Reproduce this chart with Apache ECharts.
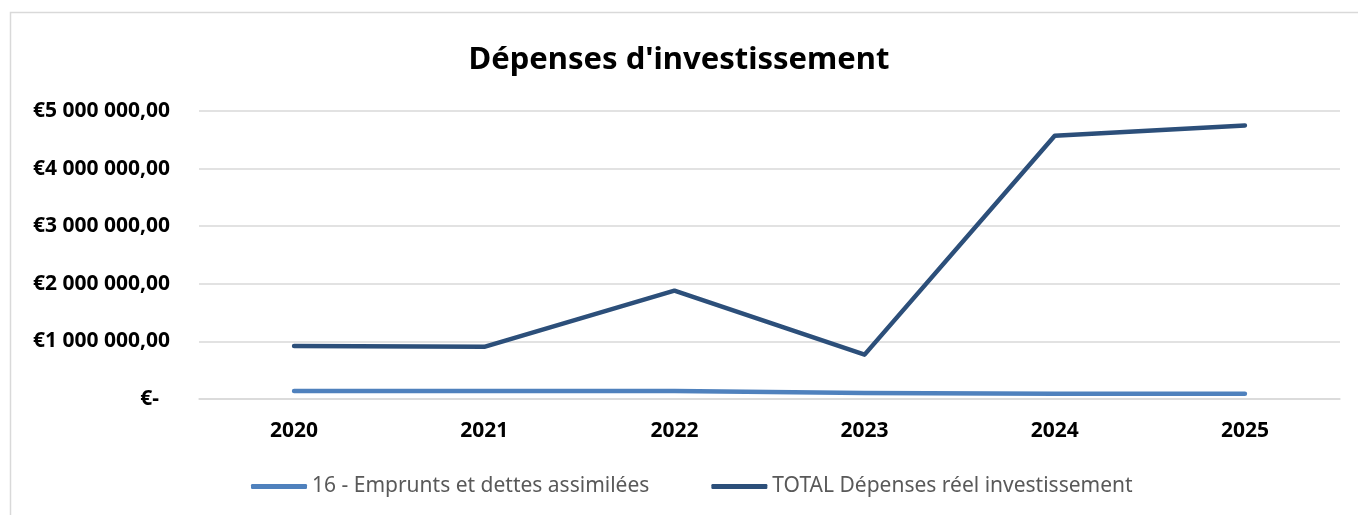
<!DOCTYPE html>
<html>
<head>
<meta charset="utf-8">
<title>Dépenses d'investissement</title>
<script src="https://cdn.jsdelivr.net/npm/echarts@6/dist/echarts.min.js"></script>
<style>
  html, body { margin: 0; padding: 0; background: #fff; }
  #chart { width: 1358px; height: 515px; }
</style>
</head>
<body>
<div id="chart"></div>
<script>
// données
var years = ['2020', '2021', '2022', '2023', '2024', '2025'];
var emprunts = [140000, 140000, 140000, 105000, 92000, 92000];
var totalDepenses = [920000, 905000, 1880000, 770000, 4570000, 4750000];
var seriesNames = ['16 - Emprunts et dettes assimilées', 'TOTAL Dépenses réel investissement'];

var myChart = echarts.init(document.getElementById('chart'));

function euro(v) {
    if (v === 0) return '€-  ';
    var s = String(Math.round(v)).replace(/\B(?=(\d{3})+(?!\d))/g, ' ');
    return '€' + s + ',00';
}

var option = {
    animation: false,
    backgroundColor: '#fff',
    title: {
        text: "Dépenses d'investissement",
        left: 'center',
        top: 40,
        textStyle: {
            fontFamily: 'Noto Sans',
            fontWeight: 'bold',
            fontSize: 31,
            color: '#000'
        }
    },
    // cadre du graphique
    graphic: [{
        type: 'rect',
        shape: { x: 10.5, y: 12.5, width: 1400, height: 600 },
        style: { fill: 'none', stroke: '#d9d9d9', lineWidth: 1.5 },
        silent: true
    }],
    legend: {
        left: 251,
        top: 476,
        padding: 0,
        icon: 'roundRect',
        itemWidth: 56,
        itemHeight: 5,
        itemGap: 62,
        textStyle: {
            fontFamily: 'Noto Sans',
            fontSize: 21,
            color: '#595959'
        },
        data: seriesNames
    },
    grid: {
        left: 199,
        right: 18,
        top: 111,
        bottom: 116,
        containLabel: false
    },
    xAxis: {
        type: 'category',
        data: years,
        boundaryGap: true,
        axisLine: { lineStyle: { color: '#d9d9d9', width: 1.5 } },
        axisTick: { show: false },
        axisLabel: {
            margin: 22,
            fontFamily: 'Noto Sans',
            fontWeight: 'bold',
            fontSize: 21,
            color: '#000'
        }
    },
    yAxis: {
        type: 'value',
        min: 0,
        max: 5000000,
        interval: 1000000,
        axisLine: { show: false },
        axisTick: { show: false },
        splitLine: { lineStyle: { color: '#d9d9d9', width: 1.5 } },
        axisLabel: {
            margin: 29,
            fontFamily: 'Noto Sans',
            fontWeight: 'bold',
            fontSize: 21,
            color: '#000',
            formatter: euro
        }
    },
    series: [
        {
            name: seriesNames[0],
            type: 'line',
            data: emprunts,
            showSymbol: false,
            symbol: 'none',
            color: '#4f81bd',
            lineStyle: { width: 4.5, color: '#4f81bd', cap: 'round', join: 'round' }
        },
        {
            name: seriesNames[1],
            type: 'line',
            data: totalDepenses,
            showSymbol: false,
            symbol: 'none',
            color: '#2c4f7a',
            lineStyle: { width: 4.5, color: '#2c4f7a', cap: 'round', join: 'round' }
        }
    ]
};

myChart.setOption(option);
</script>
</body>
</html>
